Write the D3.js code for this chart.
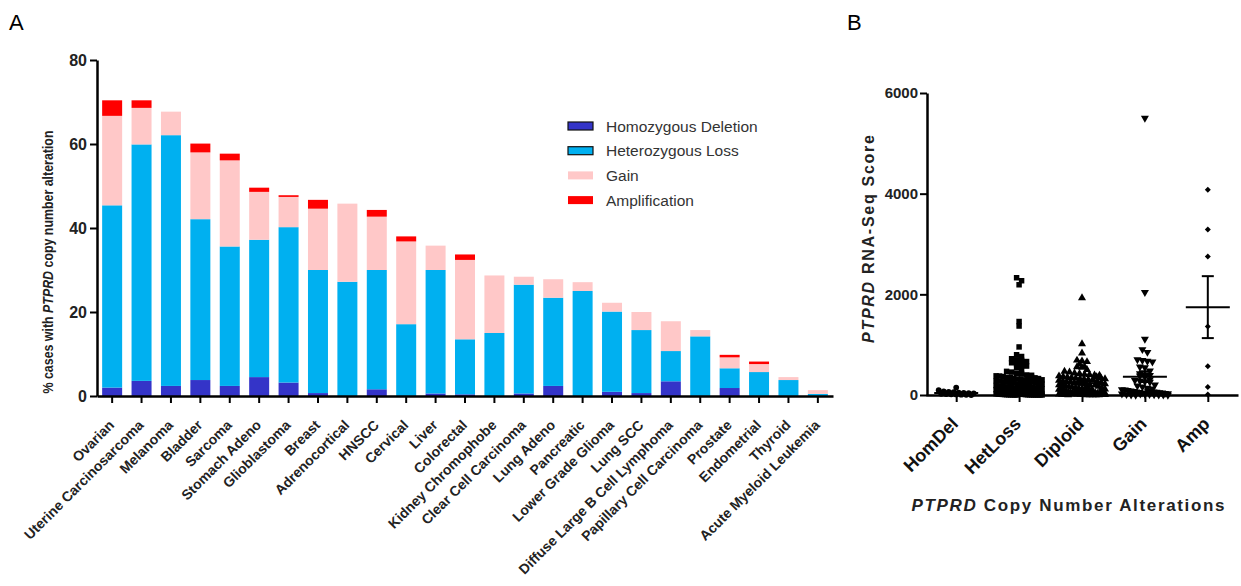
<!DOCTYPE html>
<html>
<head>
<meta charset="utf-8">
<script src="https://cdn.jsdelivr.net/npm/d3@7"></script>
<style>
  body { margin: 0; background: #fff; }
  svg { font-family: "Liberation Sans", Arial, sans-serif; }
</style>
</head>
<body>
<svg id="chart" width="1241" height="586"></svg>
<script>
// ---- panel A data: % cases per cancer type (segment heights) ----
const categories = ["Ovarian", "Uterine Carcinosarcoma", "Melanoma", "Bladder", "Sarcoma",
  "Stomach Adeno", "Glioblastoma", "Breast", "Adrenocortical", "HNSCC", "Cervical", "Liver",
  "Colorectal", "Kidney Chromophobe", "Clear Cell Carcinoma", "Lung Adeno", "Pancreatic",
  "Lower Grade Glioma", "Lung SCC", "Diffuse Large B Cell Lymphoma", "Papillary Cell Carcinoma",
  "Prostate", "Endometrial", "Thyroid", "Acute Myeloid Leukemia"];
const homDeletion = [2.0, 3.6, 2.4, 3.8, 2.4, 4.5, 3.2, 0.7, 0, 1.6, 0, 0.6, 0.4, 0, 0.6, 2.4, 0, 1.0, 0.7, 3.5, 0, 1.9, 0, 0, 0];
const hetLoss     = [43.4, 56.3, 59.7, 38.3, 33.2, 32.7, 37.0, 29.3, 27.2, 28.4, 17.1, 29.4, 13.1, 15.0, 25.9, 21.0, 25.0, 19.1, 15.0, 7.2, 14.2, 4.7, 5.7, 3.8, 0.5];
const gain        = [21.3, 8.7, 5.6, 15.9, 20.5, 11.4, 7.2, 14.6, 18.6, 12.7, 19.7, 5.8, 18.9, 13.7, 1.9, 4.4, 2.1, 2.1, 4.3, 7.1, 1.5, 2.6, 1.9, 0.7, 0.9];
const amplification = [3.7, 1.8, 0, 2.1, 1.6, 1.0, 0.4, 2.1, 0, 1.6, 1.2, 0, 1.3, 0, 0, 0, 0, 0, 0, 0, 0, 0.6, 0.6, 0, 0];
const seriesNames = ["Homozygous Deletion", "Heterozygous Loss", "Gain", "Amplification"];
const seriesColors = ["#3434c8", "#00b0f0", "#ffc8c8", "#ff0000"];
const aTicks = [0, 20, 40, 60, 80];

// ---- panel B data: PTPRD RNA-Seq score per copy number group ----
const cnGroups = ["HomDel", "HetLoss", "Diploid", "Gain", "Amp"];
const scoreHomDel = [148, 96, 71, 64, 55, 48, 41, 36, 30, 24, 19, 14, 10, 6, 3, 0];
const scoreHetLoss = [2330, 2270, 2190, 1460, 1370, 955, 800, 765, 720, 700, 690, 665, 640, 615, 600,
  575, 540, 505, 470, 455, 430, 415, 398, 392, 381, 377, 366, 352, 347, 333, 318, 311, 298, 284,
  279, 262, 255, 241, 236, 218, 211, 206, 188, 181, 176, 160, 152, 149, 133, 128, 117, 106, 101,
  97, 88, 83, 76, 69, 64, 58, 52, 47, 41, 37, 32, 28, 24, 19, 15, 12, 9, 6, 4, 2, 1, 0, 0,
  372, 356, 341, 327, 302, 289, 271, 248, 229, 214, 197, 184, 171, 158, 143, 138, 121, 112, 94,
  86, 79, 71, 62, 55, 44, 39, 34, 26, 21, 17, 13, 8, 5, 3, 1, 0, 0, 0, 0, 0];
const scoreDiploid = [1930, 1015, 830, 690, 675, 660, 610, 565, 560, 548, 505, 470, 452, 436, 425,
  410, 402, 396, 388, 377, 365, 352, 344, 336, 322, 314, 305, 296, 288, 276, 265, 258, 244, 236,
  228, 219, 207, 198, 186, 177, 168, 155, 143, 131, 122, 110, 98, 87, 76, 64, 55, 43, 34, 26, 18,
  11, 5, 0, 140, 126, 118, 104, 93, 82, 79, 71, 66, 61, 57, 49, 46, 39, 31, 28, 23, 21, 14, 9, 7,
  3, 2, 1, 0, 0, 362, 341, 318, 293, 271, 246, 222, 193, 171, 149, 116, 89, 58, 36, 17, 4];
const scoreGain = [5500, 2040, 1110, 905, 850, 705, 690, 675, 660, 560, 545, 480, 425, 405, 390,
  382, 362, 305, 293, 281, 268, 257, 204, 183, 161, 138, 122, 109, 101, 92, 81, 73, 61, 52, 43, 31,
  22, 11, 5, 0, 85, 72, 64, 58, 47, 41, 35, 28, 22, 16, 12, 8, 4, 2, 0];
const scoreAmp = [4080, 3290, 2750, 1360, 570, 160, 10];
const groupScores = [scoreHomDel, scoreHetLoss, scoreDiploid, scoreGain, scoreAmp];
const bTicks = [0, 2000, 4000, 6000];

const svg = d3.select("#chart");

function styleAxis(g, tickFont) {
  g.attr("font-family", null).attr("font-size", null);
  g.select(".domain").attr("stroke", "#000").attr("stroke-width", 2.5);
  g.selectAll(".tick line").attr("stroke", "#000").attr("stroke-width", 2);
  g.selectAll(".tick text").style("font-size", tickFont).style("font-weight", "bold").attr("fill", "#222");
}

// ================= Panel A =================
const xA = d3.scaleBand().domain(categories).range([97, 833]).paddingInner(0.32).paddingOuter(0.175);
const yA = d3.scaleLinear().domain([0, 80]).range([396, 60]);

const rows = categories.map((c, i) => ({
  cat: c, homDeletion: homDeletion[i], hetLoss: hetLoss[i], gain: gain[i], amplification: amplification[i]
}));
const keys = ["homDeletion", "hetLoss", "gain", "amplification"];
const stacked = d3.stack().keys(keys)(rows);

svg.append("g").selectAll("g")
  .data(stacked)
  .join("g")
    .attr("fill", (d, i) => seriesColors[i])
  .selectAll("rect")
  .data(d => d)
  .join("rect")
    .attr("x", d => xA(d.data.cat))
    .attr("y", d => yA(d[1]))
    .attr("width", xA.bandwidth())
    .attr("height", d => yA(d[0]) - yA(d[1]));

const axA = svg.append("g").attr("transform", "translate(97,0)")
  .call(d3.axisLeft(yA).tickValues(aTicks).tickSize(7).tickSizeOuter(0).tickPadding(3));
styleAxis(axA, "16px");

const axAx = svg.append("g").attr("transform", "translate(0,396)")
  .call(d3.axisBottom(xA).tickSize(7).tickSizeOuter(0).tickFormat(""));
styleAxis(axAx, "14px");

svg.append("g").selectAll("text")
  .data(categories)
  .join("text")
    .attr("transform", d => `translate(${xA(d) + xA.bandwidth() / 2 + 3},426) rotate(-45)`)
    .attr("text-anchor", "end")
    .style("font-size", "14px")
    .style("font-weight", "bold")
    .attr("fill", "#222")
    .text(d => d);

const yTitleA = svg.append("text")
  .attr("transform", "translate(53,262) rotate(-90)")
  .attr("text-anchor", "middle")
  .attr("textLength", 263)
  .attr("lengthAdjust", "spacingAndGlyphs")
  .style("font-size", "14px")
  .style("font-weight", "bold")
  .attr("fill", "#222");
yTitleA.append("tspan").text("% cases with ");
yTitleA.append("tspan").style("font-style", "italic").text("PTPRD");
yTitleA.append("tspan").text(" copy number alteration");

// legend
const legend = svg.append("g").selectAll("g")
  .data(seriesNames)
  .join("g")
    .attr("transform", (d, i) => `translate(568,${126 + i * 24.7})`);
legend.append("rect")
  .attr("x", 0).attr("y", -4).attr("width", 25).attr("height", 8)
  .attr("fill", (d, i) => seriesColors[i])
  .attr("stroke", (d, i) => i < 2 ? "#111" : "none")
  .attr("stroke-width", 1.2);
legend.append("text")
  .attr("x", 38).attr("dy", "0.36em")
  .style("font-size", "15.5px")
  .attr("fill", "#333")
  .text(d => d);

svg.append("text").attr("x", 9).attr("y", 30).style("font-size", "22px").text("A");
svg.append("text").attr("x", 847).attr("y", 30).style("font-size", "22px").text("B");

// ================= Panel B =================
const xB = d3.scalePoint().domain(cnGroups).range([926, 1238]).padding(0.48);
const yB = d3.scaleLinear().domain([0, 6000]).range([395, 93]);

const axB = svg.append("g").attr("transform", "translate(927,0)")
  .call(d3.axisLeft(yB).tickValues(bTicks).tickFormat(d3.format("d")).tickSize(7).tickSizeOuter(0).tickPadding(2));
styleAxis(axB, "15px");

const axBx = svg.append("g").attr("transform", "translate(0,395)")
  .call(d3.axisBottom(xB).tickSize(7).tickSizeOuter(0).tickFormat(""));
styleAxis(axBx, "15px");

svg.append("g").selectAll("text")
  .data(cnGroups)
  .join("text")
    .attr("transform", d => `translate(${xB(d) + 3},425) rotate(-45)`)
    .attr("text-anchor", "end")
    .style("font-size", "18px")
    .style("font-weight", "bold")
    .attr("fill", "#111")
    .text(d => d);

const yTitleB = svg.append("text")
  .attr("transform", "translate(874,239) rotate(-90)")
  .attr("text-anchor", "middle")
  .attr("textLength", 208)
  .style("font-size", "16px")
  .style("font-weight", "bold")
  .attr("fill", "#222");
yTitleB.append("tspan").style("font-style", "italic").text("PTPRD");
yTitleB.append("tspan").text(" RNA-Seq Score");

const xTitleB = svg.append("text")
  .attr("x", 1068).attr("y", 511)
  .attr("text-anchor", "middle")
  .attr("textLength", 313)
  .style("font-size", "17px")
  .style("font-weight", "bold")
  .attr("fill", "#222");
xTitleB.append("tspan").style("font-style", "italic").text("PTPRD");
xTitleB.append("tspan").text(" Copy Number Alterations");

// column scatter: points in the same pixel row are laid side by side
const rowH = 4.5, colGap = 5, maxW = 46;
function columnScatter(values, cx) {
  const pts = values.map(v => ({ v, y: yB(v) }));
  const byRow = d3.group(pts, p => Math.round(p.y / rowH));
  const out = [];
  for (const [, list] of byRow) {
    const n = list.length;
    const gap = n > 1 ? Math.min(colGap, maxW / (n - 1)) : 0;
    list.forEach((p, i) => out.push({ x: cx + (i - (n - 1) / 2) * gap, y: p.y }));
  }
  return out;
}

const symbols = [
  { type: d3.symbolCircle, size: 26, rot: 0 },
  { type: d3.symbolSquare, size: 30, rot: 0 },
  { type: d3.symbolTriangle, size: 28, rot: 0 },
  { type: d3.symbolTriangle, size: 28, rot: 180 },
  { type: d3.symbolSquare, size: 18, rot: 45 }
];

cnGroups.forEach((g, gi) => {
  const cx = xB(g);
  const vals = groupScores[gi];
  const sym = symbols[gi];
  const path = d3.symbol().type(sym.type).size(sym.size)();
  svg.append("g").selectAll("path")
    .data(columnScatter(vals, cx))
    .join("path")
      .attr("d", path)
      .attr("transform", d => `translate(${d.x},${d.y}) rotate(${sym.rot})`)
      .attr("fill", "#000");

  const m = d3.mean(vals);
  const sem = d3.deviation(vals) / Math.sqrt(vals.length);
  const stat = svg.append("g").attr("stroke", "#000").attr("stroke-width", 2);
  stat.append("line").attr("x1", cx - 22).attr("x2", cx + 22).attr("y1", yB(m)).attr("y2", yB(m));
  stat.append("line").attr("x1", cx).attr("x2", cx).attr("y1", yB(m - sem)).attr("y2", yB(m + sem));
  [m - sem, m + sem].forEach(v => {
    stat.append("line").attr("x1", cx - 6).attr("x2", cx + 6).attr("y1", yB(v)).attr("y2", yB(v));
  });
});
</script>
</body>
</html>
